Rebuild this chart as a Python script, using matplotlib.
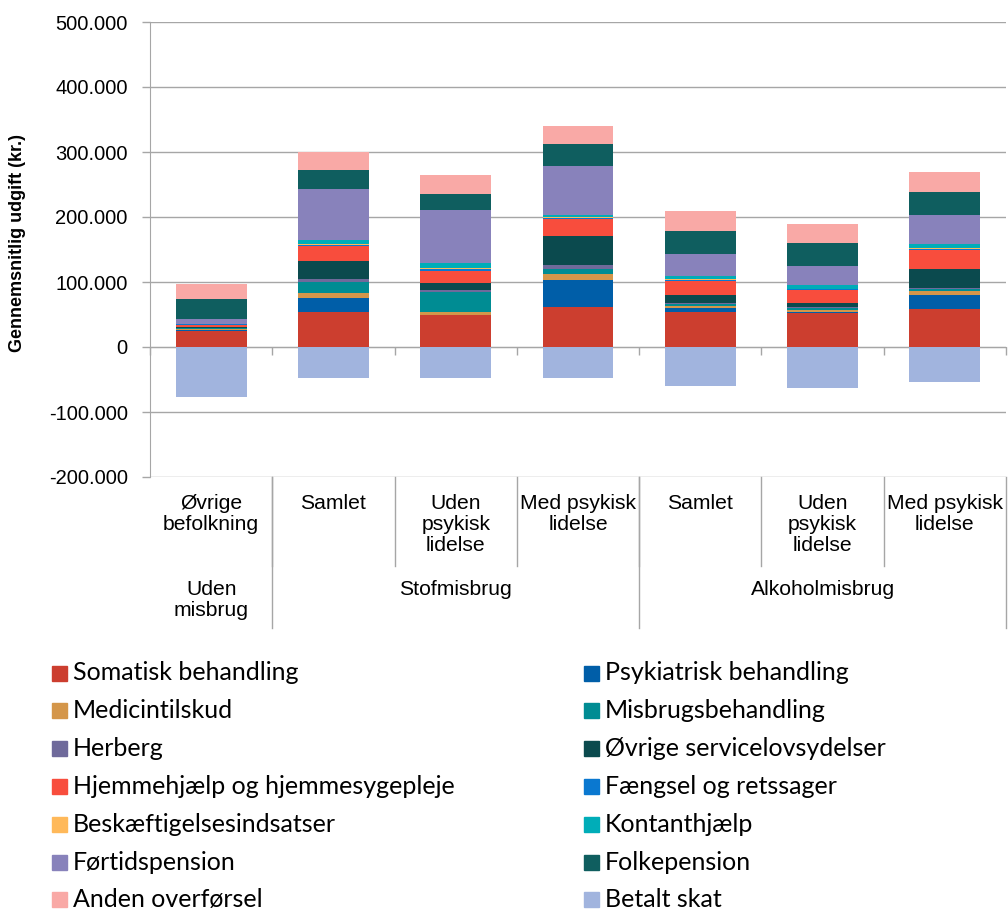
import numpy as np
import matplotlib
matplotlib.use("Agg")
import matplotlib.pyplot as plt
from matplotlib.ticker import FuncFormatter
from matplotlib.patches import Rectangle

# categories (level 1 and level 2 of the category axis)
sub_labels = ['Øvrige\nbefolkning', 'Samlet', 'Uden\npsykisk\nlidelse', 'Med psykisk\nlidelse',
              'Samlet', 'Uden\npsykisk\nlidelse', 'Med psykisk\nlidelse']
group_labels = ['Uden\nmisbrug', 'Stofmisbrug', 'Alkoholmisbrug']
group_sizes = [1, 3, 3]

# average expenditure per component (kr.)
somatisk = [24600, 54300, 49000, 62000, 54500, 53000, 59200]
psykiatrisk = [1000, 20500, 1000, 41000, 5600, 1000, 21000]
medicin = [2500, 7700, 4600, 9700, 3000, 3000, 6600]
misbrug = [1000, 17900, 29600, 7700, 3600, 3000, 3000]
herberg = [300, 4600, 3000, 5000, 1000, 1000, 1500]
oevrige = [1500, 27100, 11200, 45000, 12200, 6600, 28600]
hjemme = [3500, 23000, 18900, 26600, 22000, 20400, 30000]
faengsel = [300, 2500, 3000, 2000, 1500, 1500, 1500]
beskaeft = [300, 1000, 1000, 500, 500, 500, 500]
kontant = [500, 5600, 8700, 3600, 5600, 5000, 6600]
foertid = [8000, 78300, 80600, 75300, 33500, 29600, 44400]
folke = [31000, 29200, 25000, 33800, 35500, 34700, 36200]
anden = [22500, 28200, 28600, 27600, 30500, 30000, 30000]
skat = [-77000, -47700, -47000, -47700, -60000, -62500, -54000]

series_names = ['Somatisk behandling', 'Psykiatrisk behandling', 'Medicintilskud',
                'Misbrugsbehandling', 'Herberg', 'Øvrige servicelovsydelser',
                'Hjemmehjælp og hjemmesygepleje', 'Fængsel og retssager',
                'Beskæftigelsesindsatser', 'Kontanthjælp', 'Førtidspension',
                'Folkepension', 'Anden overførsel']
series_values = [somatisk, psykiatrisk, medicin, misbrug, herberg, oevrige, hjemme,
                 faengsel, beskaeft, kontant, foertid, folke, anden]
colors = ['#CC3E2F', '#005EA8', '#D4964A', '#008C93', '#6F6A9B', '#0B4A4E', '#F84D3D',
          '#0A78D0', '#FFB95A', '#00ADB8', '#8882BB', '#0F5E5F', '#F9A9A6']
skat_color = '#A1B4DE'

grid_col = '#A6A6A6'

fig = plt.figure(figsize=(10.08, 9.10), dpi=100)
ax = fig.add_axes([150 / 1008, 1 - 477 / 910, 856 / 1008, 455 / 910])

x = np.arange(len(sub_labels))
width = 0.58
bottom = np.zeros(len(x))
for vals, col in zip(series_values, colors):
    ax.bar(x, vals, width, bottom=bottom, color=col, zorder=3)
    bottom += np.array(vals)
ax.bar(x, skat, width, color=skat_color, zorder=3)

ax.set_xlim(-0.5, len(x) - 0.5)
ax.set_ylim(-200000, 500000)
ax.set_yticks(np.arange(-200000, 500001, 100000))
ax.yaxis.set_major_formatter(FuncFormatter(lambda v, p: f"{int(v):,}".replace(",", ".")))
ax.grid(axis='y', color=grid_col, lw=1, zorder=0)
ax.tick_params(axis='y', length=6, width=1, color=grid_col, pad=10, labelsize=14.5,
               labelcolor='black')
for lab in ax.get_yticklabels():
    lab.set_fontfamily('Liberation Sans')

# x axis sits at zero with tick marks at category boundaries
ax.spines['bottom'].set_position(('data', 0))
ax.spines['bottom'].set_color(grid_col)
ax.spines['left'].set_color(grid_col)
ax.spines['top'].set_visible(False)
ax.spines['right'].set_visible(False)
ax.set_xticks(np.arange(-0.5, len(x), 1.0))
ax.set_xticklabels([])
ax.tick_params(axis='x', length=6, width=1, color=grid_col)

fig.text(18 / 1008, 1 - 243 / 910, 'Gennemsnitlig udgift (kr.)', rotation=90,
         ha='center', va='center', fontsize=13, fontweight='bold', family='Liberation Sans')

# multi-level category axis below the plot
tr = ax.get_xaxis_transform()
lvl1 = -89 / 455
lvl2 = -151 / 455
for i, lab in enumerate(sub_labels):
    ax.text(i, -17 / 455, lab, transform=tr, ha='center', va='top', fontsize=15.2,
            family='Liberation Sans', linespacing=1.12)
for b in np.arange(0.5, len(x) - 0.5, 1.0):
    ax.plot([b, b], [0, lvl1], transform=tr, color=grid_col, lw=1, clip_on=False)
edges = np.cumsum(group_sizes) - 0.5
starts = np.concatenate([[-0.5], edges[:-1]])
for s, e, lab in zip(starts, edges, group_labels):
    ax.text((s + e) / 2, -103 / 455, lab, transform=tr, ha='center', va='top',
            fontsize=15.2, family='Liberation Sans', linespacing=1.12)
    ax.plot([e, e], [0, lvl2], transform=tr, color=grid_col, lw=1, clip_on=False)

# legend, two columns, filled row by row
leg_names = series_names + ['Betalt skat']
leg_colors = colors + [skat_color]
for i, (name, col) in enumerate(zip(leg_names, leg_colors)):
    r, c = divmod(i, 2)
    y = 673 + r * 37.8
    x0 = 52 if c == 0 else 584
    fig.patches.append(Rectangle((x0 / 1008, 1 - (y + 7.5) / 910), 15 / 1008, 15 / 910,
                                 transform=fig.transFigure, color=col))
    fig.text((x0 + 21) / 1008, 1 - y / 910, name, ha='left', va='center',
             fontsize=18, family='Lato')

fig.savefig('out.png', dpi=100)
